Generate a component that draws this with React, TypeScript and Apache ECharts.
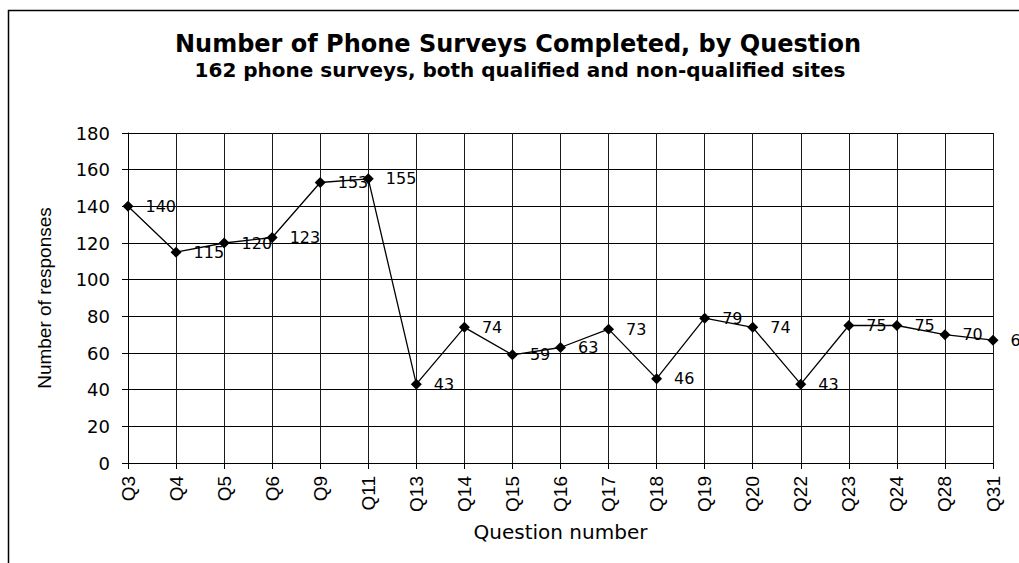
import React, { useEffect, useRef } from 'react';
import * as echarts from 'echarts';

const categories = ['Q3', 'Q4', 'Q5', 'Q6', 'Q9', 'Q11', 'Q13', 'Q14', 'Q15', 'Q16', 'Q17', 'Q18', 'Q19', 'Q20', 'Q22', 'Q23', 'Q24', 'Q28', 'Q31'];
const responses = [140, 115, 120, 123, 153, 155, 43, 74, 59, 63, 73, 46, 79, 74, 43, 75, 75, 70, 67];
const yMin = 0;
const yMax = 180;
const yStep = 20;
const titleText = 'Number of Phone Surveys Completed, by Question';
const subtitleText = '162 phone surveys, both qualified and non-qualified sites';
const xAxisName = 'Question number';
const yAxisName = 'Number of responses';

export default function App() {
  const ref = useRef<HTMLDivElement>(null);
  useEffect(() => {
    if (!ref.current) return;
    const chart = echarts.init(ref.current, null, { renderer: 'svg' });
    chart.setOption({
      animation: false,
      backgroundColor: '#ffffff',
      graphic: [
        {
          type: 'rect',
          silent: true,
          z: 0,
          shape: { x: 8.5, y: 10.5, width: 1100, height: 700 },
          style: { fill: 'none', stroke: '#000000', lineWidth: 1.5 },
        },
        {
          type: 'text',
          x: 518,
          y: 44,
          style: {
            text: titleText,
            fontFamily: '"DejaVu Sans"',
            fontSize: 24,
            fontWeight: 'bold',
            fill: '#000000',
            textAlign: 'center',
            align: 'center',
            textVerticalAlign: 'middle',
            verticalAlign: 'middle',
          },
        },
        {
          type: 'text',
          x: 520,
          y: 69.5,
          style: {
            text: subtitleText,
            fontFamily: '"DejaVu Sans"',
            fontSize: 20,
            fontWeight: 'bold',
            fill: '#000000',
            textAlign: 'center',
            align: 'center',
            textVerticalAlign: 'middle',
            verticalAlign: 'middle',
          },
        },
      ],
      grid: { left: 128, top: 133, right: 26, bottom: 100, containLabel: false },
      xAxis: {
        type: 'category',
        data: categories,
        boundaryGap: false,
        name: xAxisName,
        nameLocation: 'middle',
        nameGap: 59,
        nameTextStyle: { fontFamily: '"DejaVu Sans"', fontSize: 20, color: '#000000' },
        axisLine: { show: true, lineStyle: { color: '#000000', width: 1 } },
        axisTick: { show: true, length: 6, inside: false, lineStyle: { color: '#000000' } },
        axisLabel: {
          rotate: 90,
          margin: 13,
          fontFamily: '"Liberation Sans", Arial',
          fontSize: 19,
          color: '#000000',
          interval: 0,
        },
        splitLine: { show: true, lineStyle: { color: '#1a1a1a', width: 1 } },
      },
      yAxis: {
        type: 'value',
        min: yMin,
        max: yMax,
        interval: yStep,
        name: yAxisName,
        nameLocation: 'middle',
        nameGap: 74,
        nameTextStyle: { fontFamily: '"Liberation Sans", Arial', fontSize: 19, color: '#000000' },
        axisLine: { show: true, lineStyle: { color: '#000000', width: 1 } },
        axisTick: { show: true, length: 6, inside: false, lineStyle: { color: '#000000' } },
        axisLabel: {
          margin: 18,
          fontFamily: '"DejaVu Sans"',
          fontSize: 18,
          color: '#000000',
        },
        splitLine: { show: true, lineStyle: { color: '#000000', width: 1 } },
      },
      series: [
        {
          type: 'line',
          data: responses,
          symbol: 'diamond',
          symbolSize: 11,
          showAllSymbol: true,
          itemStyle: { color: '#000000' },
          lineStyle: { color: '#000000', width: 1.3 },
          label: {
            show: true,
            position: 'right',
            distance: 12,
            fontFamily: '"DejaVu Sans"',
            fontSize: 16,
            color: '#000000',
          },
          emphasis: { disabled: true },
        },
      ],
    });
    return () => chart.dispose();
  }, []);
  return <div ref={ref} style={{ position: 'absolute', left: 0, top: 0, width: 1019, height: 563 }} />;
}
